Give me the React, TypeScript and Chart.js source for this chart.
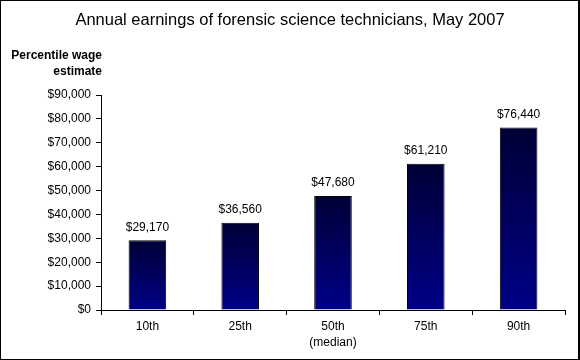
import React, { useEffect, useRef } from "react";
import { Chart, registerables } from "chart.js";

Chart.register(...registerables);

const titleText = "Annual earnings of forensic science technicians, May 2007";
const yAxisTitle = ["Percentile wage", "estimate"];
const categories = ["10th", "25th", "50th", "75th", "90th"];
const categoryNotes = ["", "", "(median)", "", ""];
const values = [29170, 36560, 47680, 61210, 76440];
const yMin = 0;
const yMax = 90000;
const yStep = 10000;

const FONT = "Arial, 'Liberation Sans', sans-serif";
const money = (v: number) => "$" + Number(v).toLocaleString("en-US");

export default function App() {
  const ref = useRef<HTMLCanvasElement | null>(null);

  useEffect(() => {
    document.body.style.margin = "0";
    const canvas = ref.current;
    if (!canvas) return;

    const labels = categories.map((c, i) => (categoryNotes[i] ? [c, categoryNotes[i]] : c));

    const decor = {
      id: "decor",
      afterDraw(chart: any) {
        const ctx = chart.ctx;
        const area = chart.chartArea;
        ctx.save();
        ctx.fillStyle = "#000";
        ctx.fillRect(0, 0, 1, 360);
        ctx.fillRect(0, 0, 580, 1);
        ctx.fillRect(578, 0, 2, 360);
        ctx.fillRect(0, 359, 580, 1);
        ctx.font = `16.5px ${FONT}`;
        ctx.textAlign = "center";
        ctx.textBaseline = "middle";
        ctx.fillText(titleText, chart.width / 2, 20);
        ctx.font = `bold 12px ${FONT}`;
        ctx.textAlign = "right";
        ctx.fillText(yAxisTitle[0], area.left + 1, 56);
        ctx.fillText(yAxisTitle[1], area.left + 1, 72);
        ctx.restore();
      },
      afterDatasetsDraw(chart: any) {
        const ctx = chart.ctx;
        const meta = chart.getDatasetMeta(0);
        ctx.save();
        ctx.font = `12px ${FONT}`;
        ctx.fillStyle = "#000";
        ctx.textAlign = "center";
        ctx.textBaseline = "middle";
        meta.data.forEach((bar: any, i: number) => {
          ctx.fillText(money(values[i]), bar.x, bar.y - 13);
        });
        ctx.restore();
      },
    };

    const chart = new Chart(canvas, {
      type: "bar",
      data: {
        labels,
        datasets: [
          {
            data: values,
            backgroundColor: (c: any) => {
              const ch = c.chart;
              const y = ch.scales?.y;
              if (!y || !c.parsed) return "#000060";
              const top = y.getPixelForValue(c.parsed.y);
              const bottom = y.getPixelForValue(0);
              if (!isFinite(top) || !isFinite(bottom) || top === bottom) return "#000060";
              const g = ch.ctx.createLinearGradient(0, top, 0, bottom);
              g.addColorStop(0, "#000036");
              g.addColorStop(1, "#000088");
              return g;
            },
            borderColor: "#000",
            borderWidth: 1,
            barPercentage: 0.405,
            categoryPercentage: 1,
          },
        ],
      },
      options: {
        responsive: false,
        animation: false,
        devicePixelRatio: 1,
        layout: { padding: { top: 95, right: 15, left: 0, bottom: 0 } },
        plugins: {
          legend: { display: false },
          tooltip: { enabled: false },
          title: { display: false },
        },
        scales: {
          x: {
            afterFit: (s: any) => {
              s.height = 50;
            },
            grid: {
              display: true,
              drawOnChartArea: false,
              tickLength: 5,
              color: "#000",
              offset: true,
            },
            border: { display: true, color: "#000" },
            ticks: {
              color: "#000",
              font: { family: FONT, size: 12, lineHeight: 1.33 },
              padding: 4,
              maxRotation: 0,
              autoSkip: false,
            },
          },
          y: {
            min: yMin,
            max: yMax,
            afterFit: (s: any) => {
              s.width = 101;
            },
            grid: {
              display: true,
              drawOnChartArea: false,
              tickLength: 5,
              color: "#000",
            },
            border: { display: true, color: "#000" },
            ticks: {
              stepSize: yStep,
              color: "#000",
              font: { family: FONT, size: 12 },
              padding: 5,
              callback: (v: any) => money(v),
            },
          },
        },
      },
      plugins: [decor],
    });

    return () => chart.destroy();
  }, []);

  return (
    <div style={{ position: "absolute", left: 0, top: 0, width: 580, height: 360, background: "#fff" }}>
      <canvas ref={ref} width={580} height={360} style={{ display: "block", width: 580, height: 360 }} />
    </div>
  );
}
